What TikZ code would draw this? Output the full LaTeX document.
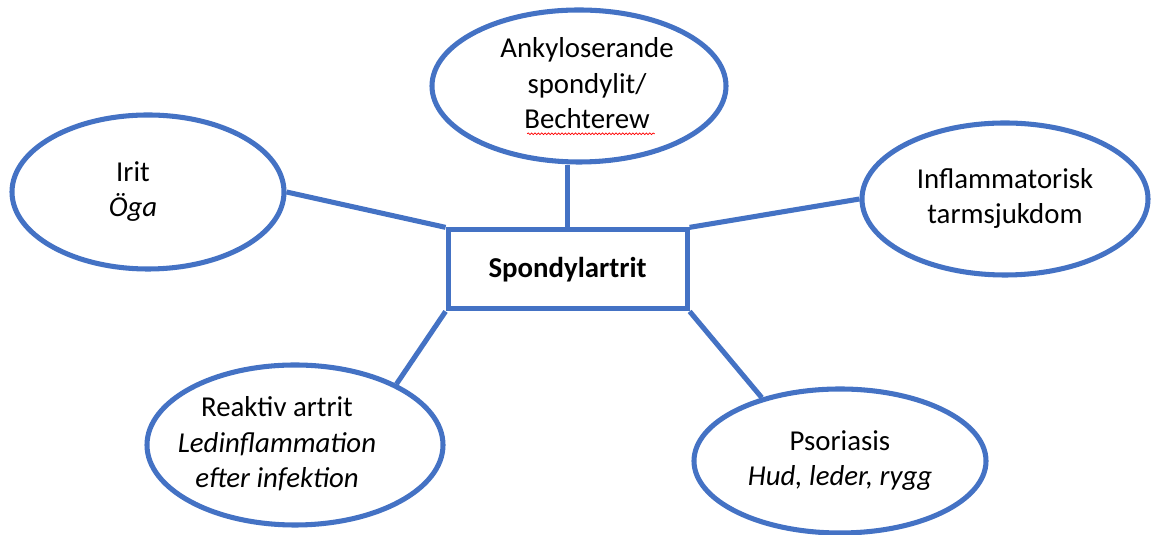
\documentclass[tikz,border=0pt]{standalone}
\usepackage{fontspec}
\setmainfont{Carlito}
\definecolor{spblue}{HTML}{4472C4}
\usetikzlibrary{shapes.geometric,decorations.pathmorphing}

\begin{document}
\begin{tikzpicture}[
  ov/.style={draw=spblue,line width=3.6pt,ellipse,inner sep=0pt,
    font=\fontsize{20.5}{25}\selectfont},
  bx/.style={draw=spblue,line width=3.6pt,minimum width=5.975cm,minimum height=1.975cm,
    font=\fontsize{20.5}{25}\selectfont\bfseries},
  ln/.style={draw=spblue,line width=3.6pt}]
  \useasboundingbox (0,0) rectangle (28.8,13.375);
  % centre
  \node[bx] (sp) at (14.19,6.64) {Spondylartrit};
  % ellipses
  \node[ov,minimum width=7.35cm,minimum height=3.8cm] (as) at (14.475,11.225)
    {\begin{tabular}{@{}c@{}}Ankyloserande\\spondylit/\\Bechterew\end{tabular}\hspace*{-0.4cm}};
  \node[ov,minimum width=6.8cm,minimum height=3.85cm] (irit) at (3.7,8.575)
    {\hspace*{-0.75cm}\begin{tabular}{@{}c@{}}Irit\\\textit{Öga}\end{tabular}};
  \node[ov,minimum width=7.15cm,minimum height=3.8cm] (ibd) at (25.125,8.4)
    {\begin{tabular}{@{}c@{}}Inflammatorisk\\tarmsjukdom\end{tabular}};
  \node[ov,minimum width=7.4cm,minimum height=4.0cm] (rea) at (7.375,2.25)
    {\hspace*{-0.9cm}\begin{tabular}{@{}c@{}}Reaktiv artrit\\\textit{Ledinflammation}\\\textit{efter infektion}\end{tabular}};
  \node[ov,minimum width=7.3cm,minimum height=3.6cm] (pso) at (21.0,1.85)
    {\begin{tabular}{@{}c@{}}Psoriasis\\\textit{Hud, leder, rygg}\end{tabular}};
  % spell-check squiggle
  \draw[red,line width=0.5pt,decorate,decoration={snake,amplitude=0.6pt,segment length=2.4pt}]
    (13.18,10.03) -- (16.37,10.03);
  % connectors
  \draw[ln] (sp.north) -- (sp.north |- as.south);
  \draw[ln] (irit.east) -- (sp.north west);
  \draw[ln] (sp.north east) -- (ibd.west);
  \draw[ln] (sp.south west) -- (rea.31);
  \draw[ln] (sp.south east) -- (pso.141);
\end{tikzpicture}
\end{document}
